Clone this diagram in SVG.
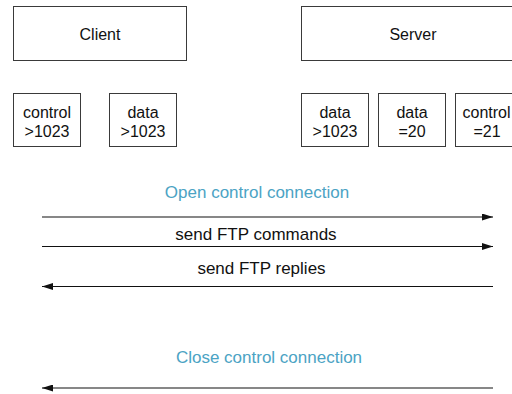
<svg xmlns="http://www.w3.org/2000/svg" width="512" height="394" viewBox="0 0 512 394">
  <style>
    .box { fill: #ffffff; stroke: #3a3a3a; stroke-width: 1; }
    .lbl { font-family: "Liberation Sans", Arial, sans-serif; font-size: 16px; fill: #111111; text-anchor: middle; }
    .msgtxt { font-family: "Liberation Sans", Arial, sans-serif; font-size: 17px; fill: #111111; text-anchor: middle; }
    .phase { font-family: "Liberation Sans", Arial, sans-serif; font-size: 17px; fill: #4ba3c4; text-anchor: middle; }
    .msg { stroke: #111111; stroke-width: 1.1; fill: none; }
  </style>
  <defs>
    <marker id="head" viewBox="0 0 11 7" refX="11" refY="3.5" markerWidth="11" markerHeight="7" markerUnits="userSpaceOnUse" orient="auto-start-reverse">
      <path d="M0,0 L11,3.5 L0,7 z" fill="#111111"/>
    </marker>
  </defs>
  <rect width="512" height="394" fill="#ffffff"/>

  <g id="client">
    <rect class="box" x="13.5" y="6.5" width="173" height="54"/>
    <text class="lbl" x="100" y="40">Client</text>
  </g>
  <g id="server">
    <rect class="box" x="301.5" y="6.5" width="220" height="54"/>
    <text class="lbl" x="413" y="40">Server</text>
  </g>

  <g id="client-control">
    <rect class="box" x="13.5" y="93.5" width="67" height="53"/>
    <text class="lbl" x="47" y="118">control</text>
    <text class="lbl" x="47" y="137">&gt;1023</text>
  </g>
  <g id="client-data">
    <rect class="box" x="109.5" y="93.5" width="67" height="53"/>
    <text class="lbl" x="143" y="118">data</text>
    <text class="lbl" x="143" y="137">&gt;1023</text>
  </g>
  <g id="server-data-high">
    <rect class="box" x="301.5" y="93.5" width="67" height="53"/>
    <text class="lbl" x="335" y="118">data</text>
    <text class="lbl" x="335" y="137">&gt;1023</text>
  </g>
  <g id="server-data-20">
    <rect class="box" x="378.5" y="93.5" width="67" height="53"/>
    <text class="lbl" x="412" y="118">data</text>
    <text class="lbl" x="412" y="137">=20</text>
  </g>
  <g id="server-control-21">
    <rect class="box" x="455.5" y="93.5" width="67" height="53"/>
    <text class="lbl" x="486.5" y="118">control</text>
    <text class="lbl" x="487" y="137">=21</text>
  </g>

  <g id="connectors">
    <line class="msg" x1="42" y1="217" x2="493" y2="217" marker-end="url(#head)"/>
    <line class="msg" x1="42" y1="246.5" x2="493" y2="246.5" marker-end="url(#head)"/>
    <line class="msg" x1="493" y1="286.5" x2="42" y2="286.5" marker-end="url(#head)"/>
    <line class="msg" x1="493" y1="388" x2="42" y2="388" marker-end="url(#head)"/>
  </g>

  <g id="labels">
    <text class="phase" x="257" y="198">Open control connection</text>
    <text class="msgtxt" x="256" y="240">send FTP commands</text>
    <text class="msgtxt" x="261.5" y="274">send FTP replies</text>
    <text class="phase" x="269" y="363">Close control connection</text>
  </g>
</svg>
